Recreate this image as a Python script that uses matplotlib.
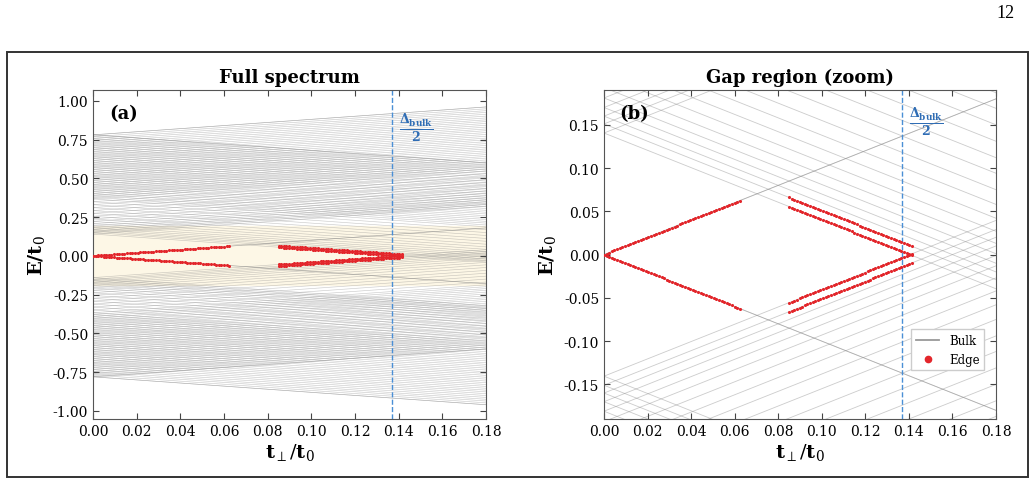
import numpy as np
import matplotlib
matplotlib.use("Agg")
import matplotlib.pyplot as plt
from matplotlib.lines import Line2D
from matplotlib.patches import Rectangle

plt.rcParams["font.family"] = "DejaVu Serif"
plt.rcParams["mathtext.fontset"] = "dejavuserif"

# ---- values ----
T_MAX = 0.18            # x range t_perp / t0
DELTA_HALF = 0.137      # dashed line, Delta_bulk / 2
ZOOM_E = 0.19           # energy window of panel (b), shaded in (a)

# positive single-layer levels eps_n (spectrum: +-eps_n +- t_perp)
bulk_levels = [
    0.1405, 0.151, 0.160, 0.170, 0.181, 0.193, 0.207, 0.222, 0.238, 0.255,
    0.274, 0.292, 0.311, 0.330, 0.349, 0.367, 0.379, 0.391, 0.402, 0.414,
    0.426, 0.438, 0.450, 0.461, 0.473, 0.485, 0.497, 0.509, 0.520, 0.532,
    0.544, 0.556, 0.568, 0.579, 0.591, 0.603, 0.615, 0.627, 0.638, 0.650,
    0.662, 0.674, 0.686, 0.697, 0.709, 0.721, 0.733, 0.745, 0.756, 0.768,
    0.780, 0.780,
]
zero_levels = [0.0, 0.0]        # doubly degenerate zero mode -> darker E = +-t

# edge-state branches: (level, t_start, t_end)
edge_branches = [
    (0.0, 0.0, 0.0625),
    (0.1405, 0.085, 0.1425),
    (0.151, 0.085, 0.1425),
]
T_STEP = 0.0012                 # sampling of t_perp for the edge dots

BULK_C = "#7f7f7f"
EDGE_C = "#e3262b"
DASH_C = "#4a8fd6"
LABEL_C = "#2f6db5"


def draw_bulk(ax, lw):
    levels = [s * e for e in bulk_levels for s in (1, -1)] + zero_levels
    for eps in levels:
        ax.plot([0, T_MAX], [eps, eps + T_MAX], color=BULK_C, lw=lw, alpha=0.4, zorder=1)
        ax.plot([0, T_MAX], [eps, eps - T_MAX], color=BULK_C, lw=lw, alpha=0.4, zorder=1)


def draw_edge(ax):
    for lev, t0, t1 in edge_branches:
        t = np.arange(t0, t1 + 1e-9, T_STEP)
        e = np.abs(lev - t)
        ax.scatter(np.r_[t, t], np.r_[e, -e], s=5, color=EDGE_C, linewidths=0, zorder=3)


def style(ax, title, tag):
    ax.set_xlim(0, T_MAX)
    ax.set_xticks(np.arange(0, 0.181, 0.02))
    ax.tick_params(direction="in", top=True, right=True, labelsize=10,
                   color="#444444", length=4)
    for sp in ax.spines.values():
        sp.set_color("#555555")
    ax.set_xlabel(r"$\mathbf{t}_\perp/\mathbf{t}_0$", fontsize=14, labelpad=2)
    ax.set_ylabel(r"$\mathbf{E/t}_0$", fontsize=14, labelpad=4)
    ax.set_title(title, fontsize=13, fontweight="bold", pad=6)
    ax.text(0.04, 0.93, tag, transform=ax.transAxes, fontsize=13,
            fontweight="bold", va="center")
    ax.axvline(DELTA_HALF, color=DASH_C, ls="--", lw=1.0, zorder=2)


fig = plt.figure(figsize=(10.35, 4.85), dpi=100)
axa = fig.add_axes([0.0899, 0.134, 0.3797, 0.678])
axb = fig.add_axes([0.5836, 0.134, 0.3787, 0.678])

# (a) full spectrum
axa.axhspan(-ZOOM_E, ZOOM_E, color="#fdf7e6", zorder=0)
draw_bulk(axa, 0.45)
draw_edge(axa)
style(axa, "Full spectrum", "(a)")
axa.set_ylim(-1.052, 1.068)
axa.set_yticks(np.arange(-1.0, 1.01, 0.25))
axa.yaxis.set_major_formatter(matplotlib.ticker.FormatStrFormatter("%.2f"))
axa.text(DELTA_HALF + 0.003, 0.935, r"$\mathbf{\frac{\Delta_{bulk}}{2}}$",
         color=LABEL_C, fontsize=13, va="top", ha="left")

# (b) gap region
draw_bulk(axb, 0.6)
draw_edge(axb)
style(axb, "Gap region (zoom)", "(b)")
axb.set_ylim(-ZOOM_E, ZOOM_E)
axb.set_yticks(np.arange(-0.15, 0.151, 0.05))
axb.yaxis.set_major_formatter(matplotlib.ticker.FormatStrFormatter("%.2f"))
axb.text(DELTA_HALF + 0.003, 0.173, r"$\mathbf{\frac{\Delta_{bulk}}{2}}$",
         color=LABEL_C, fontsize=13, va="top", ha="left")

handles = [Line2D([], [], color="#999999", lw=1.3),
           Line2D([], [], color=EDGE_C, marker="o", ls="", ms=4.5)]
axb.legend(handles, ["Bulk", "Edge"], loc="lower right",
           bbox_to_anchor=(0.985, 0.13), fontsize=8.5, fancybox=False,
           framealpha=1, edgecolor="#cccccc")

# page furniture
fig.text(0.971, 0.972, "12", fontsize=13, family="Liberation Serif",
         ha="center", va="center")
fig.patches.append(Rectangle((0.0065, 0.015), 0.987, 0.876, transform=fig.transFigure,
                             fill=False, lw=1.4, edgecolor="#333333"))

fig.savefig("out.png", dpi=100)
